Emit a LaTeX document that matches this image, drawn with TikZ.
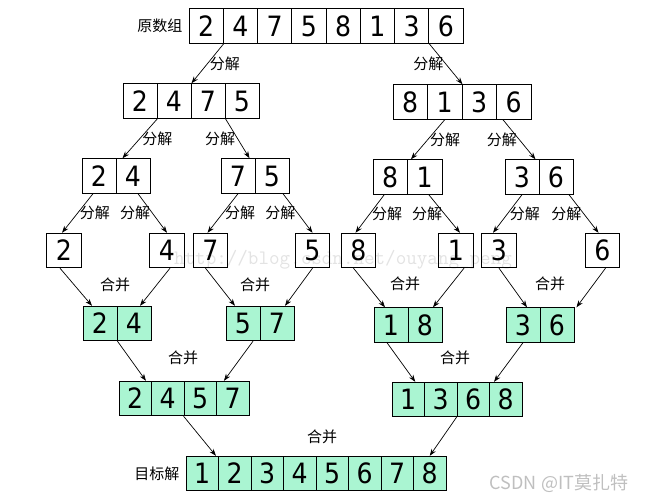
\documentclass[tikz,border=0pt]{standalone}
\usepackage{fontspec}
\setmainfont{DejaVu Sans}
\newfontfamily\cjk{Noto Sans CJK SC}
\newfontfamily\numfont{DejaVu Sans Condensed}
\usetikzlibrary{positioning,arrows.meta}
\definecolor{mint}{RGB}{170,245,210}
\begin{document}
\begin{tikzpicture}[x=1pt,y=-1pt,
	cell/.style={draw,line width=0.9pt,inner sep=0pt,minimum height=34.5pt,
		font=\numfont\fontsize{28}{28}\selectfont},
	merged/.style={cell,fill=mint},
	conn/.style={-{Stealth[length=7pt,width=5pt]},line width=0.7pt},
	lbl/.style={font=\cjk\fontsize{15}{15}\selectfont,inner sep=2pt}]
\useasboundingbox (0,0) rectangle (648,503);
\node[font=\ttfamily\fontsize{20.5}{20.5}\selectfont,text=gray!22] (url) at (343,260) {http://blog.csdn.net/ouyang\_peng};
% split arrays
\foreach \p/\x/\y/\w/\vals in {a/189/26/34.25/{2,4,7,5,8,1,3,6},
		b/123/101/34/{2,4,7,5}, c/393/102/34.5/{8,1,3,6},
		d/82/176/34/{2,4}, e/221/176/34/{7,5}, f/373/177/34.5/{8,1}, g/505/177/34/{3,6}}
	\foreach \v [count=\i] in \vals
		\node[cell,minimum width=\w pt] (\p\i) at ({\x+\w*(\i-0.5)},\y) {\v};
\foreach \v/\x [count=\i] in {2/64,4/167,7/210.5,5/312.5,8/358.5,1/456,3/499,6/602.5}
	\node[cell,minimum width=34.5pt] (h\i) at (\x,250.5) {\v};
% merged arrays
\foreach \p/\x/\y/\w/\vals in {i/83/323.5/34/{2,4}, j/226/323.5/34/{5,7},
		k/374/325/34/{1,8}, l/506/325/34/{3,6},
		m/119/398.5/32.5/{2,4,5,7}, n/392/399.5/32.5/{1,3,6,8},
		o/186/473.5/32.5/{1,2,3,4,5,6,7,8}}
	\foreach \v [count=\i] in \vals
		\node[merged,minimum width=\w pt] (\p\i) at ({\x+\w*(\i-0.5)},\y) {\v};
\node[lbl,left=4pt of a1] (src) {原数组};
\node[lbl,left=4pt of o1] (dst) {目标解};
% split
\draw[conn] (a1.south east) -- node[lbl,right] {分解} (b2.north east);
\draw[conn] (a7.south east) -- node[lbl,left] {分解} (c2.north east);
\draw[conn] (b1.south east) -- node[lbl,right] {分解} ([xshift=6pt]d1.north east);
\draw[conn] (b3.south east) -- node[lbl,left] {分解} ([xshift=-5pt]e2.north west);
\draw[conn] (c2.south) -- node[lbl,right] {分解} ([xshift=3pt]f1.north east);
\draw[conn] ([xshift=6pt]c3.south east) -- node[lbl,left] {分解} ([xshift=-4pt]g1.north east);
\draw[conn] ([xshift=-6pt]d1.south) -- node[lbl,right] {分解} ([xshift=-2pt]h1.north);
\draw[conn] ([xshift=5pt]d2.south) -- node[lbl,left] {分解} (h2.north);
\draw[conn] (e1.south) -- node[lbl,right] {分解} ([xshift=-3pt]h3.north);
\draw[conn] ([xshift=11pt]e2.south) -- node[lbl,left] {分解} (h4.north);
\draw[conn] ([xshift=-6pt]f1.south) -- node[lbl,right] {分解} ([xshift=-3pt]h5.north);
\draw[conn] ([xshift=4pt]f2.south) -- node[lbl,left] {分解} ([xshift=4pt]h6.north);
\draw[conn] (g1.south) -- node[lbl,right] {分解} ([xshift=-6pt]h7.north);
\draw[conn] ([xshift=13pt]g2.south) -- node[lbl,left] {分解} ([xshift=-4pt]h8.north);
% merge
\draw[conn] ([xshift=-4pt]h1.south) -- ([xshift=-8pt]i1.north);
\draw[conn] ([xshift=3pt]h2.south) -- ([xshift=6pt]i2.north);
\draw[conn] ([xshift=-5pt]h3.south) -- ([xshift=-8pt]j1.north);
\draw[conn] (h4.south) -- ([xshift=8pt]j2.north);
\draw[conn] ([xshift=-5pt]h5.south) -- ([xshift=-6pt]k1.north);
\draw[conn] ([xshift=8pt]h6.south) -- ([xshift=8pt]k2.north);
\draw[conn] (h7.south) -- ([xshift=4pt]l1.north);
\draw[conn] ([xshift=3pt]h8.south) -- ([xshift=2pt]l2.north east);
\draw[conn] (i1.south east) -- ([xshift=-6pt]m1.north east);
\draw[conn] ([xshift=10pt]j1.south) -- ([xshift=7pt]m3.north east);
\draw[conn] ([xshift=-4pt]k1.south) -- ([xshift=7pt]n1.north);
\draw[conn] (l1.south) -- ([xshift=5pt]n4.north west);
\draw[conn] (m3.south west) -- ([xshift=-3pt]o1.north east);
\draw[conn] (n3.south west) -- (o8.north);
\node[lbl] (mg1) at (115,285) {合并};
\node[lbl] (mg2) at (255,285) {合并};
\node[lbl] (mg3) at (405,284) {合并};
\node[lbl] (mg4) at (550,284) {合并};
\node[lbl] (mg5) at (183,358) {合并};
\node[lbl] (mg6) at (455,358) {合并};
\node[lbl] (mg7) at (322,437) {合并};
\node[font=\cjk\fontsize{18}{18}\selectfont,text=gray!50] (csdn) at (559,483) {CSDN @IT莫扎特};
\end{tikzpicture}
\end{document}
